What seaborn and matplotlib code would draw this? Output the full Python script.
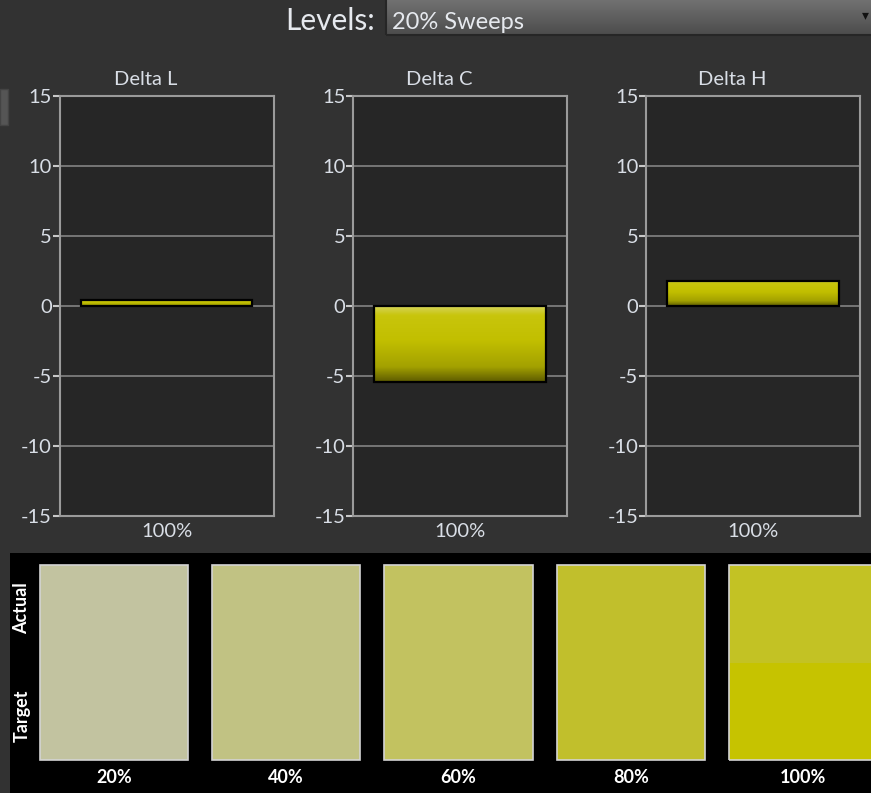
import numpy as np
import pandas as pd
import matplotlib
matplotlib.use("Agg")
import matplotlib.pyplot as plt
from matplotlib.colors import LinearSegmentedColormap
from matplotlib.patches import Rectangle
from matplotlib.transforms import blended_transform_factory
import seaborn as sns

# ---------------- data ----------------
metrics = ["Delta L", "Delta C", "Delta H"]
level_label = ["100%"]
delta_values = [0.4, -5.4, 1.8]
y_ticks = [-15, -10, -5, 0, 5, 10, 15]

swatch_levels = ["20%", "40%", "60%", "80%", "100%"]
actual_colors = ["#c2c3a0", "#c1c283", "#c2c260", "#c1bf2c", "#c3c224"]
target_colors = ["#c2c3a0", "#c1c283", "#c2c260", "#c1bf2c", "#c6c300"]

header_label = "Levels:"
dropdown_value = "20% Sweeps"

# ---------------- style ----------------
sns.set_theme(style="dark")
plt.rcParams["font.family"] = ["Lato", "DejaVu Sans"]

FIG_BG = "#323232"
AX_BG = "#262626"
GRID = "#7c7c7c"
SPINE = "#9a9a9a"
TXT = "#d9dee6"

W, H = 871, 793
fig = plt.figure(figsize=(W / 100, H / 100), dpi=100)
fig.patch.set_facecolor(FIG_BG)


def fx(px):
    return px / W


def fy(py):
    return 1 - py / H


bar_cmap = LinearSegmentedColormap.from_list(
    "barg",
    [(0.0, "#d6d45a"), (0.12, "#c8c50c"), (0.45, "#c2bf00"),
     (0.8, "#a3a100"), (1.0, "#5c5a00")],
)

ax_lefts = [59.5, 353, 646]
ax_w = 214
ax_top, ax_bot = 96, 516

for name, val, lpx in zip(metrics, delta_values, ax_lefts):
    ax = fig.add_axes([fx(lpx), fy(ax_bot), fx(ax_w), (ax_bot - ax_top) / H])
    ax.set_facecolor(AX_BG)
    df = pd.DataFrame({"level": level_label, "value": [val]})
    sns.barplot(data=df, x="level", y="value", ax=ax, color="#c4c100",
                edgecolor="black", linewidth=1.6, width=0.8, zorder=3)
    ax.set_xlim(-0.5, 0.5)
    ax.set_ylim(-15, 15)
    # gradient fill of the bars
    for p in list(ax.patches):
        bb = p.get_bbox()
        grad = np.linspace(0, 1, 256).reshape(-1, 1)
        im = ax.imshow(grad, cmap=bar_cmap, aspect="auto", origin="upper",
                       extent=[bb.x0, bb.x1, min(bb.y0, bb.y1), max(bb.y0, bb.y1)],
                       zorder=3, interpolation="bilinear")
        im.set_clip_path(p)
        p.set_facecolor("none")
        p.set_zorder(4)
    ax.set_xlim(-0.5, 0.5)
    ax.set_ylim(-15, 15)
    ax.set_yticks(y_ticks)
    ax.set_yticklabels([str(t) for t in y_ticks])
    ax.yaxis.grid(True, color=GRID, linewidth=1.3, zorder=1)
    ax.xaxis.grid(False)
    ax.set_axisbelow(True)
    ax.set_xlabel("")
    ax.set_ylabel("")
    ax.set_title(name, color=TXT, fontsize=14.5, pad=8, x=0.405)
    ax.set_xticks([0])
    ax.set_xticklabels(level_label)
    ax.set_xticks([-0.5, 0.5], minor=True)
    ax.tick_params(axis="x", which="major", length=0, pad=5, labelsize=14.5, labelcolor=TXT)
    ax.tick_params(axis="x", which="minor", length=6, width=1.5, color=SPINE, direction="out")
    ax.tick_params(axis="y", length=5, width=1.5, color="#c8c8c8", direction="out",
                   pad=0.5, labelsize=14.5, labelcolor=TXT, left=True)
    for s in ax.spines.values():
        s.set_visible(True)
        s.set_color(SPINE)
        s.set_linewidth(1.5)

# ---------------- swatch panel ----------------
sw_left, sw_top = 10, 553
sax = fig.add_axes([fx(sw_left), 0, fx(W - sw_left), (H - sw_top) / H])
sax.set_facecolor("black")
x = np.arange(len(swatch_levels))
sax.bar(x, 1, bottom=0, width=0.86, color=target_colors, linewidth=0)
sax.bar(x, 1, bottom=1, width=0.86, color=actual_colors, linewidth=0)
sax.bar(x, 2, bottom=0, width=0.86, fill=False, edgecolor="#d4d4d4", linewidth=1.2)
sax.set_xlim(-0.604, 4.395)
sax.set_ylim(-0.338, 2.123)
sax.set_xticks([])
sax.set_yticks([])
for s in sax.spines.values():
    s.set_visible(False)
for xi, lab in zip(x, swatch_levels):
    sax.text(xi, -0.175, lab, ha="center", va="center", color="white",
             fontsize=13, fontweight="bold")
tr = blended_transform_factory(sax.transAxes, sax.transData)
sax.text(0.0139, 1.56, "Actual", transform=tr, rotation=90, ha="center",
         va="center", color="white", fontsize=13, fontweight="bold")
sax.text(0.0139, 0.45, "Target", transform=tr, rotation=90, ha="center",
         va="center", color="white", fontsize=13, fontweight="bold")

# ---------------- header ----------------
hax = fig.add_axes([fx(386), fy(35), fx(W - 386), 36 / H])
hax.set_xlim(0, 1)
hax.set_ylim(0, 1)
hax.axis("off")
g = np.linspace(0, 1, 64).reshape(-1, 1)
dd_cmap = LinearSegmentedColormap.from_list("dd", ["#727272", "#4c4c4c"])
hax.imshow(g, cmap=dd_cmap, aspect="auto", origin="upper", extent=[0, 1, 0, 1])
hax.add_patch(Rectangle((0, 0), 1.2, 1.05, fill=False, edgecolor="#262626",
                        linewidth=1.5, transform=hax.transAxes, clip_on=False))
hax.text(0.013, 0.36, dropdown_value, ha="left", va="center", color="#e6e9ee",
         fontsize=17)
hax.text(0.995, 0.55, "\u25BE", ha="right", va="center", color="#111111",
         fontsize=10, family=["DejaVu Sans"])

fig.text(fx(375), fy(21), header_label, ha="right", va="center",
         color="#e6e9ee", fontsize=21.5)

# little button edge at left
fig.patches.append(Rectangle((0, fy(125)), fx(8), 36 / H, transform=fig.transFigure,
                             facecolor="#555555", edgecolor="#444444", linewidth=1))

fig.savefig("out.png", dpi=100, facecolor=fig.get_facecolor())
